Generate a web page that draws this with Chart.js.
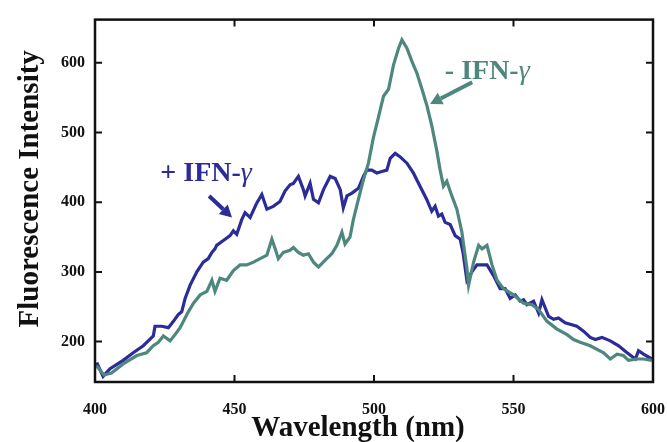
<!DOCTYPE html>
<html>
<head>
<meta charset="utf-8">
<script src="https://cdn.jsdelivr.net/npm/chart.js@4/dist/chart.umd.min.js"></script>
<style>
  html, body { margin: 0; padding: 0; background: #ffffff; }
  #wrap { width: 667px; height: 442px; }
</style>
</head>
<body>
<div id="wrap"><canvas id="c" width="667" height="442"></canvas></div>
<script>
// ---- data ----
const plusWavelength = [400.6,402.9,405.4,410.1,413.7,417.3,419.1,420.9,421.5,423.9,426.3,428.1,429.9,431.1,432.3,434.1,436.5,438.8,440.6,441.9,443.0,443.6,446.0,448.4,449.6,450.8,452.6,453.8,455.6,458.0,459.8,461.6,463.9,466.3,468.1,469.9,471.1,472.9,474.7,475.3,477.1,478.3,480.1,481.9,484.3,486.1,487.9,489.0,490.3,492.1,494.4,496.2,497.4,499.2,501.0,502.8,504.6,505.8,507.6,509.4,511.8,514.1,516.5,518.9,520.7,521.9,523.1,524.3,525.5,527.3,529.1,530.9,531.9,533.3,535.1,536.9,538.1,540.5,542.8,545.2,547.0,548.8,550.6,552.4,553.6,554.8,557.2,559.0,560.2,562.6,564.4,566.1,568.5,572.7,575.1,577.5,579.3,581.7,584.7,587.7,590.7,593.7,594.8,596.6,599.6];
const plusIntensity = [170,150,161,173,184,194,201,208,222,222,220,229,239,243,262,281,300,314,319,328,333,338,345,352,359,354,375,385,378,399,411,390,394,401,416,425,427,437,418,409,427,404,399,418,437,434,418,392,409,413,420,437,446,446,442,444,446,463,470,465,456,442,423,404,387,394,380,383,371,368,352,347,328,288,300,310,310,310,295,276,276,262,267,258,260,253,258,241,260,236,232,234,227,222,215,206,203,206,201,194,184,175,187,182,175];

const minusWavelength = [400.6,403.2,405.9,410.1,415.0,418.5,420.9,422.7,424.5,426.9,428.7,430.5,431.7,433.5,435.3,437.7,440.1,441.9,443.0,444.8,447.2,449.6,452.0,454.4,456.8,459.2,461.6,463.4,464.6,465.7,467.5,469.9,471.1,472.9,474.7,476.5,478.3,480.1,482.5,484.9,486.7,488.5,489.6,491.4,492.6,494.4,496.2,498.0,499.8,501.6,503.4,505.2,507.0,508.8,510.0,511.8,513.6,515.4,517.2,519.0,520.7,522.5,523.7,524.9,526.1,527.9,529.7,531.5,533.3,533.9,535.7,537.5,538.7,540.5,542.3,544.1,546.4,550.0,553.6,556.6,559.0,562.0,565.6,569.2,571.5,573.9,577.5,582.3,584.7,587.1,589.4,591.2,594.3,596.6,599.6];
const minusIntensity = [165,152,155,168,180,184,194,199,208,201,210,220,229,243,255,267,272,288,272,291,288,302,310,310,314,319,324,347,333,319,328,331,335,328,324,326,314,307,317,326,338,357,340,350,375,404,432,456,493,522,552,562,597,621,633,621,602,585,562,538,510,474,446,423,430,409,390,357,305,281,314,338,333,338,310,288,276,267,255,253,246,229,218,210,203,199,194,184,175,182,180,173,175,175,173];

const xTickValues = [400, 450, 500, 550, 600];
const yTickValues = [200, 300, 400, 500, 600];
const seriesLabels = ['+ IFN-\u03b3', '- IFN-\u03b3'];
const xTitle = 'Wavelength (nm)';
const yTitle = 'Fluorescence Intensity';

// annotation anchors in data units
const plusNote = { x: 439.8, y: 441, arrowFrom: [440.9, 409], arrowTo: [449.1, 378] };
const minusNote = { x: 540.6, y: 587, arrowFrom: [535.2, 572], arrowTo: [520.1, 541] };

// ---- styling ----
const BLUE = '#2c2c98';
const TEAL = '#4e877e';
const SERIF = '"Liberation Serif", "Times New Roman", serif';

function pts(xs, ys) { return xs.map((x, i) => ({ x: x, y: ys[i] })); }

const framePlugin = {
  id: 'frame',
  afterDatasetsDraw(chart) {
    const { ctx, chartArea: a, scales } = chart;
    const xs = scales.x, ys = scales.y;
    ctx.save();
    ctx.strokeStyle = '#111';
    ctx.lineWidth = 2.5;
    ctx.strokeRect(a.left, a.top, a.right - a.left, a.bottom - a.top);
    ctx.lineWidth = 2;
    const L = 7;
    ctx.beginPath();
    xTickValues.forEach(v => {
      if (v === xTickValues[0] || v === xTickValues[xTickValues.length - 1]) return;
      const px = xs.getPixelForValue(v);
      ctx.moveTo(px, a.bottom); ctx.lineTo(px, a.bottom - L);
      ctx.moveTo(px, a.top); ctx.lineTo(px, a.top + L);
    });
    yTickValues.forEach(v => {
      const py = ys.getPixelForValue(v);
      ctx.moveTo(a.left, py); ctx.lineTo(a.left + L, py);
      ctx.moveTo(a.right, py); ctx.lineTo(a.right - L, py);
    });
    ctx.stroke();

    // axis titles
    ctx.fillStyle = '#111';
    ctx.font = 'bold 29px ' + SERIF;
    ctx.textAlign = 'center';
    ctx.textBaseline = 'middle';
    ctx.fillText(xTitle, (a.left + a.right) / 2 - 16, 429);
    ctx.save();
    ctx.translate(31, (a.top + a.bottom) / 2 - 12);
    ctx.rotate(-Math.PI / 2);
    ctx.fillText(yTitle, 0, 0);
    ctx.restore();

    // annotations
    function note(n, text, color) {
      const cx = xs.getPixelForValue(n.x), cy = ys.getPixelForValue(n.y);
      ctx.fillStyle = color;
      ctx.textBaseline = 'middle';
      const fs = 28;
      ctx.font = 'bold ' + fs + 'px ' + SERIF;
      const main = text.slice(0, -1);
      const g = text.slice(-1);
      const w1 = ctx.measureText(main).width;
      ctx.font = 'italic ' + fs + 'px ' + SERIF;
      const w2 = ctx.measureText(g).width;
      const x0 = cx - (w1 + w2) / 2;
      ctx.font = 'bold ' + fs + 'px ' + SERIF;
      ctx.textAlign = 'left';
      ctx.fillText(main, x0, cy);
      ctx.font = 'italic ' + fs + 'px ' + SERIF;
      ctx.fillText(g, x0 + w1, cy);

      const fx = xs.getPixelForValue(n.arrowFrom[0]), fy = ys.getPixelForValue(n.arrowFrom[1]);
      const tx = xs.getPixelForValue(n.arrowTo[0]), ty = ys.getPixelForValue(n.arrowTo[1]);
      const ang = Math.atan2(ty - fy, tx - fx);
      const head = 12, hw = 6.5;
      const bx = tx - head * Math.cos(ang), by = ty - head * Math.sin(ang);
      ctx.strokeStyle = color;
      ctx.lineWidth = 4;
      ctx.beginPath(); ctx.moveTo(fx, fy); ctx.lineTo(bx, by); ctx.stroke();
      ctx.beginPath();
      ctx.moveTo(tx, ty);
      ctx.lineTo(bx + hw * Math.sin(ang), by - hw * Math.cos(ang));
      ctx.lineTo(bx - hw * Math.sin(ang), by + hw * Math.cos(ang));
      ctx.closePath(); ctx.fill();
    }
    note(plusNote, seriesLabels[0], BLUE);
    note(minusNote, seriesLabels[1], TEAL);
    ctx.restore();
  }
};

new Chart(document.getElementById('c'), {
  type: 'line',
  data: {
    datasets: [
      { label: seriesLabels[1], data: pts(minusWavelength, minusIntensity), borderColor: TEAL, borderWidth: 3.2, pointRadius: 0, tension: 0, fill: false },
      { label: seriesLabels[0], data: pts(plusWavelength, plusIntensity), borderColor: BLUE, borderWidth: 3.2, pointRadius: 0, tension: 0, fill: false }
    ]
  },
  options: {
    responsive: false,
    animation: false,
    devicePixelRatio: 1,
    layout: { padding: { left: 0, right: 0, top: 14, bottom: 0 } },
    plugins: { legend: { display: false }, tooltip: { enabled: false } },
    scales: {
      x: {
        type: 'linear', min: 400, max: 600,
        afterBuildTicks(s) { s.ticks = xTickValues.map(v => ({ value: v })); },
        afterFit(s) { s.height = 60; s.paddingRight = 14; s.paddingLeft = 0; },
        grid: { display: false, drawTicks: false },
        border: { display: false },
        ticks: { padding: 18, color: '#111', font: { family: SERIF, size: 16, weight: 'bold' }, maxRotation: 0 },
        title: { display: false, text: xTitle }
      },
      y: {
        type: 'linear', min: 142, max: 662,
        afterBuildTicks(s) { s.ticks = yTickValues.map(v => ({ value: v })); },
        afterFit(s) { s.width = 95; },
        grid: { display: false, drawTicks: false },
        border: { display: false },
        ticks: { padding: 10, color: '#111', font: { family: SERIF, size: 16, weight: 'bold' } },
        title: { display: false, text: yTitle }
      }
    }
  },
  plugins: [framePlugin]
});
</script>
</body>
</html>
